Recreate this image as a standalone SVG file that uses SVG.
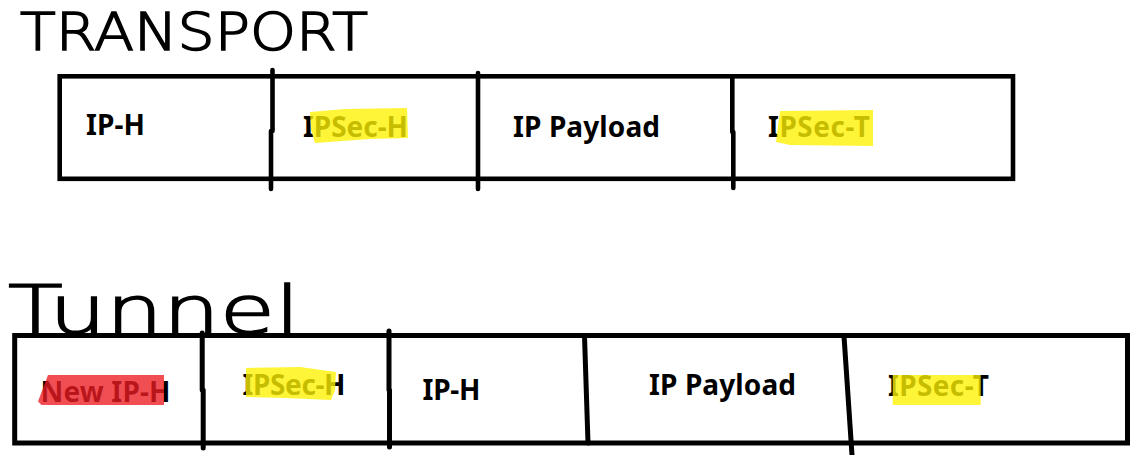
<svg xmlns="http://www.w3.org/2000/svg" width="1144" height="455" viewBox="0 0 1144 455">
  <style>
    .frame { fill: none; stroke: #000; stroke-width: 4.6; stroke-linecap: butt; stroke-linejoin: miter; }
    .div { fill: none; stroke: #000; stroke-width: 4.6; stroke-linecap: round; }
    .lbl { font-family: "Noto Sans", "Open Sans", "Liberation Sans", sans-serif; font-weight: 700; font-size: 28px; fill: #000; }
    .hand { font-family: "DejaVu Sans", "Liberation Sans", sans-serif; font-weight: 200; fill: #000; stroke: #000; stroke-width: 1.6; }
    .hy { fill: #fff200; fill-opacity: 0.78; }
    .hr { fill: #ed1c24; fill-opacity: 0.78; }
  </style>
  <rect width="1144" height="455" fill="#fff"/>

  <g id="title-transport">
    <text class="hand" x="20" y="50" font-size="52" textLength="348" lengthAdjust="spacingAndGlyphs">TRANSPORT</text>
  </g>
  <g id="title-tunnel">
    <text class="hand" x="8" y="333" font-size="66" textLength="292" lengthAdjust="spacingAndGlyphs">Tunnel</text>
  </g>

  <g id="transport-frame">
    <rect class="frame" x="59.7" y="76.3" width="953.3" height="102.5"/>
    <path class="div" d="M272.5 70 V131 M271 131 V189"/>
    <path class="div" d="M478 73 V189"/>
    <path class="div" d="M732.3 78 V132 M733.3 132 V188"/>
  </g>

  <g id="tunnel-frame">
    <rect class="frame" x="14.7" y="335.5" width="1112.8" height="107.5" style="stroke-width:5"/>
    <path class="div" d="M202.2 333 V390 M203.2 390 V448" style="stroke-width:5"/>
    <path class="div" d="M389 331 V390 M389.5 390 V447" style="stroke-width:5"/>
    <path class="div" d="M584.5 336 L588 443" style="stroke-width:5"/>
    <path class="div" d="M844 336 L852 455" style="stroke-width:5"/>
  </g>

  <g id="t-iph">
    <text class="lbl" x="86" y="135" textLength="59">IP-H</text>
  </g>
  <g id="t-ipsech">
    <text class="lbl" x="303" y="137" textLength="105">IPSec-H</text>
    <polygon class="hy" points="310,112 345,109 407,108 408,138 370,139 315,143 311,130"/>
  </g>
  <g id="t-payload">
    <text class="lbl" x="513" y="137" textLength="147">IP Payload</text>
  </g>
  <g id="t-ipsect">
    <text class="lbl" x="768" y="137" textLength="102">IPSec-T</text>
    <polygon class="hy" points="780,111 873,110 873,146 790,145 776,142"/>
  </g>

  <g id="u-newiph">
    <text class="lbl" x="40.5" y="402" textLength="130">New IP-H</text>
    <polygon class="hr" points="48,375 164,375 164,405 41.5,405 38,401.5"/>
  </g>
  <g id="u-ipsech">
    <text class="lbl" x="242.5" y="395" textLength="103">IPSec-H</text>
    <polygon class="hy" points="246,368 300,367 336,372 335,390 331,400 285,398 246,397"/>
  </g>
  <g id="u-iph">
    <text class="lbl" x="422.5" y="399.5" textLength="58">IP-H</text>
  </g>
  <g id="u-payload">
    <text class="lbl" x="649" y="395" textLength="147">IP Payload</text>
  </g>
  <g id="u-ipsect">
    <text class="lbl" x="888" y="396" textLength="101">IPSec-T</text>
    <polygon class="hy" points="892.7,375 980.7,375 980.7,405 892.7,405"/>
  </g>
</svg>
